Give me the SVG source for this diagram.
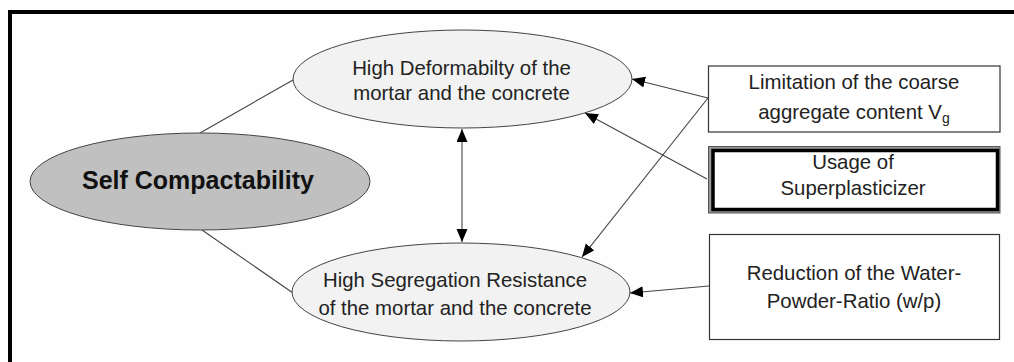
<svg xmlns="http://www.w3.org/2000/svg" width="1014" height="362" viewBox="0 0 1014 362">
<style>
text{font-family:"Liberation Sans",Arial,sans-serif;fill:#222;text-anchor:middle;font-size:20.4px}
.bold{font-weight:bold;font-size:25px;fill:#111}
.ell{fill:#f2f2f2;stroke:#444;stroke-width:1}
.box{fill:#fff;stroke:#333;stroke-width:1.2}
.con{stroke:#444;stroke-width:1.1;fill:none}
</style>
<defs>
<marker id="ah" markerUnits="userSpaceOnUse" markerWidth="14" markerHeight="12" refX="13" refY="5.5" orient="auto-start-reverse">
<path d="M0,0 L13,5.5 L0,11 Z" fill="#000"/>
</marker>
</defs>
<rect x="0" y="0" width="1014" height="362" fill="#fff"/>
<rect id="frame" x="10" y="12" width="1010" height="360" fill="#fefefe" stroke="#000" stroke-width="4"/>
<g id="connectors">
<line class="con" x1="200" y1="133" x2="293" y2="80"/>
<line class="con" x1="202" y1="230" x2="293" y2="293"/>
<line class="con" x1="462" y1="129" x2="462" y2="242" marker-start="url(#ah)" marker-end="url(#ah)"/>
<line class="con" x1="708" y1="98" x2="632" y2="79" marker-end="url(#ah)"/>
<line class="con" x1="708" y1="98" x2="582" y2="257" marker-end="url(#ah)"/>
<line class="con" x1="707" y1="179" x2="585" y2="113" marker-end="url(#ah)"/>
<line class="con" x1="709" y1="286" x2="630" y2="293" marker-end="url(#ah)"/>
</g>
<g id="self">
<ellipse cx="200" cy="181.5" rx="170" ry="48.5" fill="#c0c0c0" stroke="#444" stroke-width="1"/>
<text class="bold" x="198" y="189">Self Compactability</text>
</g>
<g id="deform">
<ellipse class="ell" cx="462.5" cy="79" rx="169.5" ry="49"/>
<text x="461.5" y="75">High Deformabilty of the</text>
<text x="461.5" y="100">mortar and the concrete</text>
</g>
<g id="segreg">
<ellipse class="ell" cx="461" cy="292" rx="169" ry="49"/>
<text x="455" y="287">High Segregation Resistance</text>
<text x="455" y="315">of the mortar and the concrete</text>
</g>
<g id="limit">
<rect class="box" x="708.5" y="66" width="291.5" height="66"/>
<text x="854" y="89">Limitation of the coarse</text>
<text x="854" y="119">aggregate content V<tspan font-size="14" dy="4">g</tspan></text>
</g>
<g id="super">
<rect x="708.5" y="146.5" width="291.5" height="66.5" fill="#999" stroke="#555" stroke-width="1"/>
<rect x="713" y="150.5" width="284.5" height="59" fill="#fff" stroke="#000" stroke-width="3.5"/>
<text x="853" y="169">Usage of</text>
<text x="853" y="195">Superplasticizer</text>
</g>
<g id="reduce">
<rect class="box" x="709.5" y="234.5" width="290" height="105"/>
<text x="854" y="280">Reduction of the Water-</text>
<text x="854" y="308">Powder-Ratio (w/p)</text>
</g>
</svg>
